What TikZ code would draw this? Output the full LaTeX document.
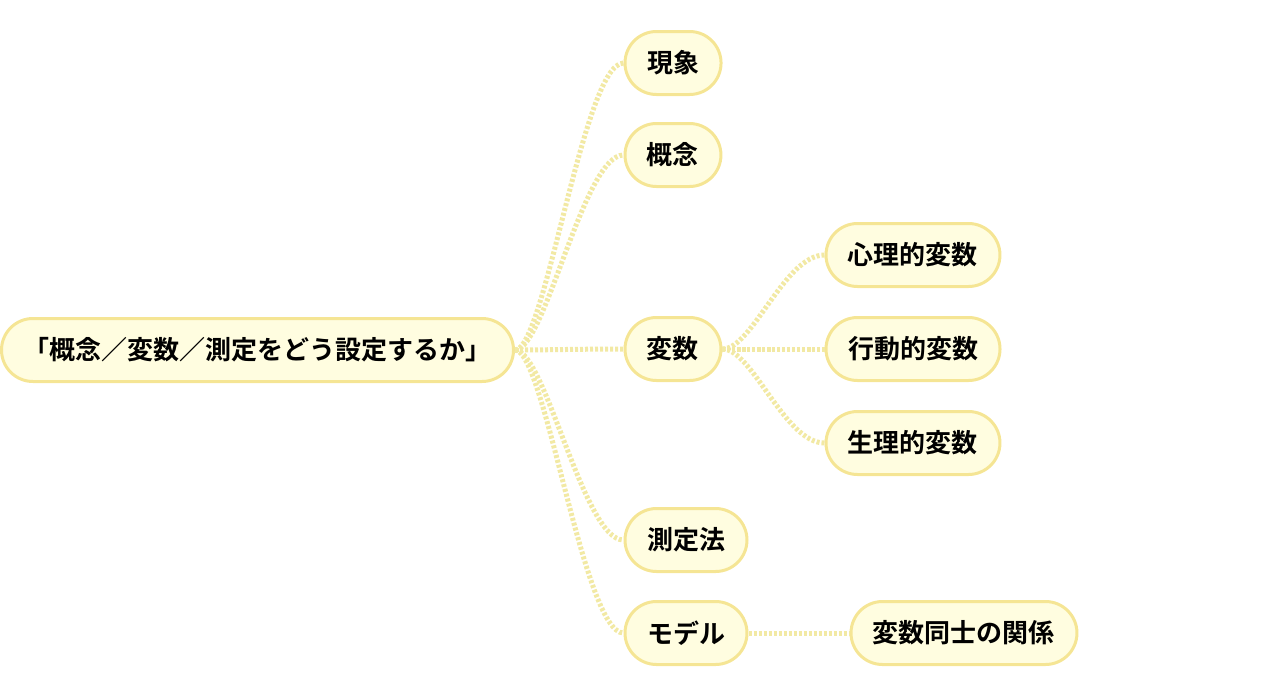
\documentclass[tikz,border=0pt]{standalone}
\usepackage{fontspec}
\setmainfont{Noto Sans CJK JP}[BoldFont={Noto Sans CJK JP Bold}]
\usetikzlibrary{shapes.misc}
\definecolor{nodefill}{HTML}{FFFDE0}
\definecolor{nodeline}{HTML}{F5E594}
\definecolor{connline}{HTML}{F2E9A4}
\tikzset{
  mmnode/.style={rounded rectangle, draw=nodeline, fill=nodefill, line width=3pt,
    minimum height=63pt, inner xsep=19.5pt, inner ysep=0pt,
    font=\bfseries\fontsize{26}{31}\selectfont, text=black},
  conn/.style={draw=connline, line width=5pt, dash pattern=on 3pt off 2pt}
}
\begin{document}
\begin{tikzpicture}[x=1pt,y=-1pt]
\useasboundingbox (0,0) rectangle (1280,697);
\node[mmnode] (root) at (257.5,350) {「概念／変数／測定をどう設定するか」};
\node[mmnode, anchor=west] (gen) at (623.5,63) {現象};
\node[mmnode, anchor=west] (gai) at (623.5,155) {概念};
\node[mmnode, anchor=west] (hen) at (623.5,349) {変数};
\node[mmnode, anchor=west] (sok) at (623.5,540) {測定法};
\node[mmnode, anchor=west] (mod) at (623.5,633) {モデル};
\node[mmnode, anchor=west] (shin) at (824.5,255) {心理的変数};
\node[mmnode, anchor=west] (kou) at (824.5,349) {行動的変数};
\node[mmnode, anchor=west] (sei) at (824.5,443) {生理的変数};
\node[mmnode, anchor=west] (kan) at (849.5,633) {変数同士の関係};
\foreach \c in {gen,gai,hen,sok,mod}{
  \draw[conn] (root.east) .. controls +(30,0) and +(-40,0) .. (\c.west);
}
\foreach \c in {shin,kou,sei}{
  \draw[conn] (hen.east) .. controls +(30,0) and +(-40,0) .. (\c.west);
}
\draw[conn] (mod.east) -- (kan.west);
\end{tikzpicture}
\end{document}
